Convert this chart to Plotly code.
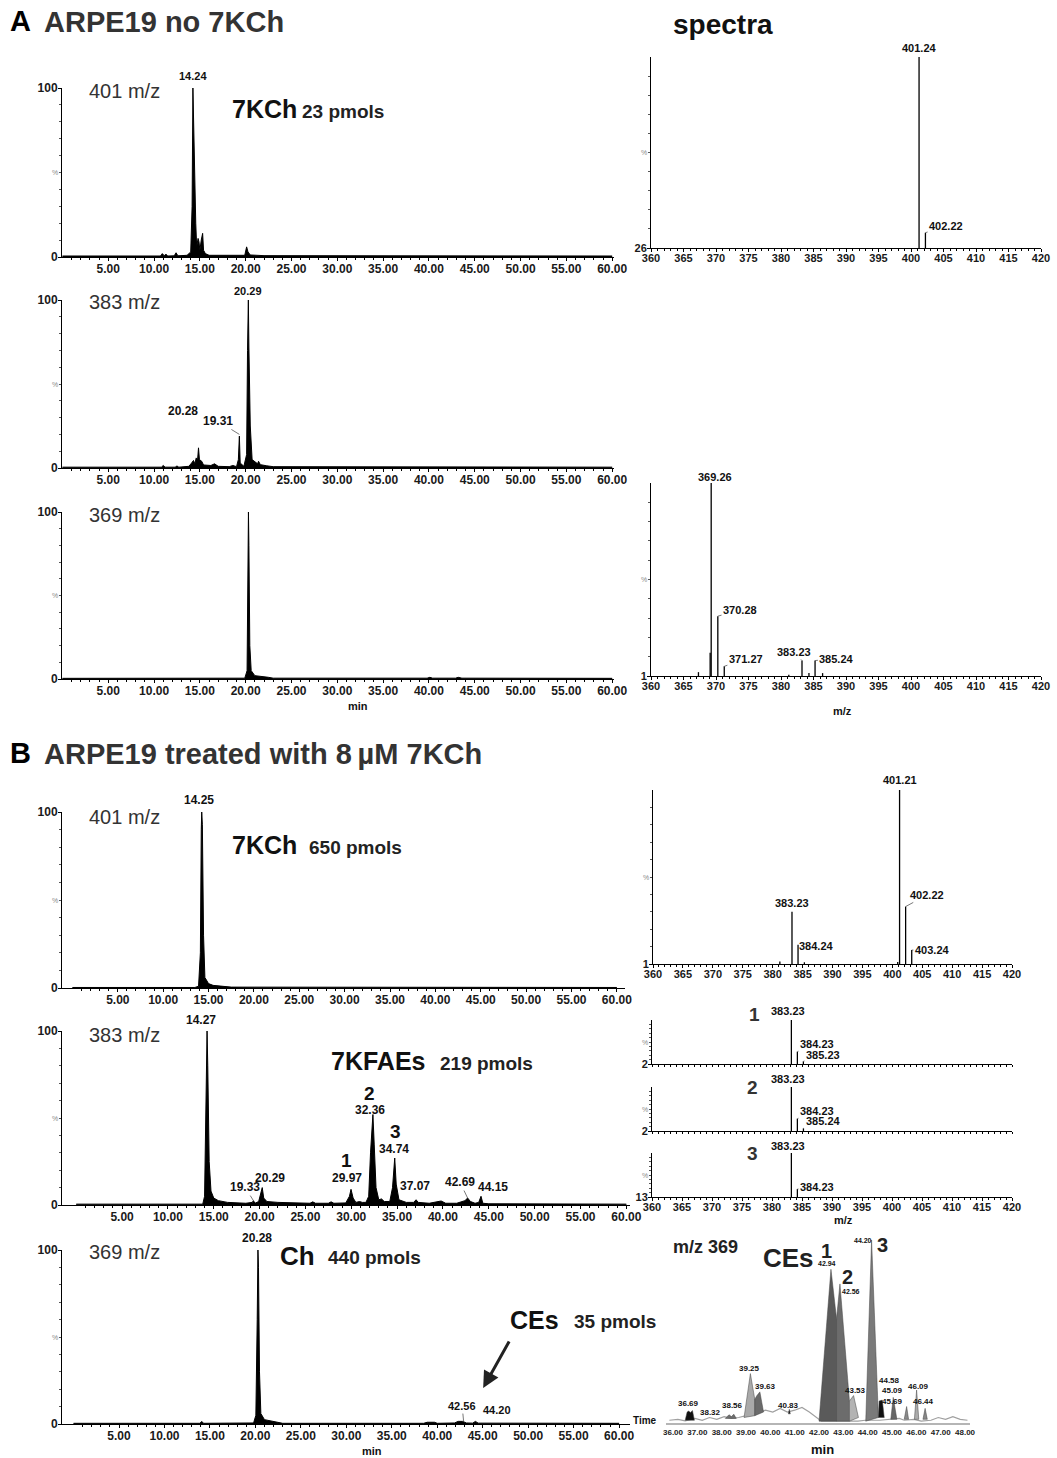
import plotly.graph_objects as go

W, H = 1057, 1458
FONT = "Liberation Sans, Arial, Helvetica, sans-serif"

# ======================= DATA =======================
# Chromatograms: (retention time [min], relative abundance [%])
A401 = [(0, 0.6), (10.7, 0.6), (10.9, 2), (11.1, 0.8), (11.3, 1.6), (11.5, 0.6), (12.2, 0.7), (12.4, 2.5),
        (12.6, 0.7), (13.6, 1), (14.0, 3), (14.15, 30), (14.24, 100), (14.3, 80), (14.4, 60), (14.55, 20),
        (14.65, 6), (14.8, 11), (14.9, 9), (15.0, 4), (15.15, 10), (15.3, 14), (15.4, 4), (15.6, 2), (16.0, 1),
        (19.9, 1), (20.1, 6), (20.25, 3), (20.5, 1.2), (22.0, 0.8), (60, 0.6)]
A383 = [(0, 0.5), (10.8, 0.5), (11.0, 1.5), (11.2, 0.5), (12.3, 0.5), (12.5, 1.2), (12.7, 0.5), (13.8, 1),
        (14.1, 3), (14.3, 4.5), (14.45, 2.5), (14.6, 6), (14.75, 5), (14.85, 12), (14.95, 5), (15.2, 4),
        (15.4, 1.8), (16.2, 1.5), (16.6, 2.5), (17.0, 1), (18.2, 0.8), (18.6, 1.5), (19.0, 0.8), (19.2, 5),
        (19.31, 19), (19.4, 3), (19.8, 1), (20.1, 8), (20.2, 70), (20.29, 100), (20.35, 72), (20.5, 25),
        (20.7, 5), (21.0, 3.5), (21.3, 2.5), (21.4, 4), (21.6, 2), (22.3, 1.3), (23.0, 0.8), (60, 0.5)]
A369 = [(0, 0.4), (19.9, 0.5), (20.15, 5), (20.25, 60), (20.3, 100), (20.35, 80), (20.45, 20), (20.6, 5),
        (21.0, 2), (22.5, 1), (23.0, 0.5), (39.8, 0.5), (40.1, 1), (40.4, 0.5), (42.9, 0.5), (43.2, 1),
        (43.6, 0.5), (60, 0.4)]
B401 = [(0, 0.3), (13.5, 0.3), (13.9, 1), (14.1, 20), (14.2, 90), (14.25, 100), (14.32, 93), (14.45, 30),
        (14.6, 6), (15.0, 2.5), (15.5, 1.5), (16.5, 0.8), (17.5, 0.5), (60, 0.3)]
B383 = [(0, 0.5), (13.8, 0.5), (14.0, 5), (14.15, 60), (14.27, 100), (14.35, 80), (14.5, 25), (14.7, 8),
        (15.0, 4), (15.5, 2.5), (16.5, 1.5), (18.5, 1), (19.2, 1.5), (19.33, 2.5), (19.5, 1), (19.9, 2),
        (20.1, 7), (20.29, 10), (20.45, 4), (20.8, 2), (22.0, 1.5), (24.0, 1), (25.5, 1), (25.8, 1.8),
        (26.1, 1), (27.5, 1), (27.8, 1.8), (28.1, 1), (29.4, 1.2), (29.8, 5), (29.97, 9), (30.2, 4),
        (30.5, 1.5), (30.9, 2), (31.2, 1.5), (31.6, 1.5), (31.9, 5), (32.1, 30), (32.36, 52), (32.5, 35),
        (32.7, 10), (33.0, 3), (33.3, 3.5), (33.6, 2), (34.2, 2), (34.5, 10), (34.74, 27), (34.9, 12),
        (35.2, 3), (36.0, 1.5), (36.8, 1.5), (37.07, 3), (37.3, 1.5), (38.5, 1), (39.4, 2), (39.8, 2.3),
        (40.3, 1), (41.5, 1), (42.4, 2.5), (42.69, 4), (43.0, 2), (43.5, 1), (43.9, 1.5), (44.15, 5),
        (44.35, 1), (45.0, 0.7), (60, 0.5)]
B369 = [(0, 0.4), (13.9, 0.4), (14.1, 1.5), (14.3, 0.4), (19.8, 0.6), (20.05, 5), (20.2, 60), (20.28, 100),
        (20.34, 90), (20.45, 30), (20.6, 6), (21.0, 2.5), (22.0, 1.5), (22.6, 0.8), (23.0, 0.4), (38.5, 0.4),
        (38.9, 1), (39.7, 1), (40.0, 0.4), (41.9, 0.6), (42.3, 1.5), (42.8, 1.5), (43.2, 0.6), (43.9, 0.5),
        (44.2, 1.5), (44.5, 0.5), (60, 0.4)]

CHROM_TICKS = [5, 10, 15, 20, 25, 30, 35, 40, 45, 50, 55, 60]
SPEC_TICKS = [360, 365, 370, 375, 380, 385, 390, 395, 400, 405, 410, 415, 420]
CE_TICKS = [36, 37, 38, 39, 40, 41, 42, 43, 44, 45, 46, 47, 48]

# Mass spectra: m/z and relative intensity [%]
SA401_MZ = [401.24, 402.22]
SA401_I = [100, 8]
SA369_MZ = [367.3, 369.1, 369.26, 370.28, 371.27, 381.2, 383.23, 384.3, 385.24, 386.4]
SA369_I = [2, 12, 100, 31, 5, 0.6, 8, 1.5, 8, 1.5]
SB401_MZ = [381.2, 383.23, 384.24, 385.3, 400.9, 401.21, 402.22, 403.24]
SB401_I = [1.5, 30, 11, 1, 1.2, 100, 33, 8]
SB1_MZ = [383.23, 384.23, 385.23]
SB1_I = [100, 28, 6]
SB2_MZ = [383.23, 384.23, 385.24]
SB2_I = [100, 28, 6]
SB3_MZ = [383.23, 384.23]
SB3_I = [100, 18]

# CE region of the m/z 369 chromatogram (36-48 min)
CE_BASE = [(35.85, 1.5), (36.2, 2), (36.5, 1.2), (36.9, 2.5), (37.2, 1.5), (37.5, 3), (37.8, 2), (38.1, 3.5),
           (38.4, 2.5), (38.7, 3), (39.0, 4), (39.4, 5), (39.8, 7), (40.1, 6), (40.4, 8), (40.7, 6), (41.0, 7),
           (41.3, 8.5), (41.6, 6), (41.9, 3), (42.1, 1), (43.6, 1), (43.9, 1.5), (44.5, 1.5), (44.9, 2),
           (45.3, 2.5), (45.5, 1.5), (45.9, 2), (46.2, 1), (46.6, 1.5), (46.9, 3), (47.2, 2), (47.5, 3.5),
           (47.8, 2), (48.1, 1.5)]
CE_PEAKS = [  # (outline vertices, fill colour)
    ([(36.5, 1.5), (36.58, 6), (36.64, 6.5), (36.72, 5.8), (36.8, 6.8), (36.88, 1.5)], "#111111"),
    ([(38.15, 2.5), (38.3, 4.5), (38.4, 3.5), (38.5, 4.8), (38.6, 2.5)], "#6e6e6e"),
    ([(38.92, 3), (39.18, 27), (39.36, 13), (39.36, 4)], "#a9a9a9"),
    ([(39.36, 4), (39.36, 13), (39.45, 15), (39.57, 17), (39.72, 6)], "#6a6a6a"),
    ([(40.74, 5), (40.78, 7.5), (40.82, 5)], "#111111"),
    ([(42.0, 1), (42.49, 84), (42.72, 57), (42.72, 1)], "#5a5a5a"),
    ([(42.72, 1), (42.72, 57), (42.86, 76), (43.25, 12), (43.25, 1)], "#6c6c6c"),
    ([(43.25, 1), (43.25, 12), (43.42, 15), (43.62, 3)], "#b3b3b3"),
    ([(43.92, 1), (44.16, 100), (44.44, 3)], "#7a7a7a"),
    ([(44.44, 3), (44.47, 12), (44.6, 12.5), (44.68, 3)], "#111111"),
    ([(44.95, 2), (45.05, 14), (45.2, 2)], "#666666"),
    ([(45.5, 2), (45.6, 9), (45.68, 2)], "#8a8a8a"),
    ([(45.92, 2), (46.01, 18), (46.1, 2)], "#ababab"),
    ([(46.27, 2), (46.36, 8), (46.45, 2)], "#888888"),
]

# ======================= HELPERS =======================
def fx(px):
    return px / W


def fy(py):
    return 1 - py / H


fig = go.Figure()
layout = dict(width=W, height=H, margin=dict(l=0, r=0, t=0, b=0, pad=0, autoexpand=False),
              paper_bgcolor="white", plot_bgcolor="rgba(0,0,0,0)", showlegend=False,
              font=dict(family=FONT, color="#111"))
annotations = []
GEOM = {}  # axis id -> (x px domain, y px (top,bottom), x range, y range)


def bold(size, color="#111"):
    return dict(family=FONT, size=size, color=color, weight="bold")


def txt(px, py, text, size, color="#111", weight="bold", xanchor="center"):
    annotations.append(dict(xref="paper", yref="paper", x=fx(px), y=fy(py), text=text, showarrow=False,
                            xanchor=xanchor, yanchor="middle",
                            font=dict(family=FONT, size=size, color=color, weight=weight)))


def d2p(i, x, y):
    (x0, x1), (yt, yb), (r0, r1), (s0, s1) = GEOM[i]
    px = x0 + (x - r0) / (r1 - r0) * (x1 - x0)
    py = yb - (y - s0) / (s1 - s0) * (yb - yt)
    return px, py


def lab(i, x, y, text, size=11, hx=None, hy=None, color="#111"):
    px, py = d2p(i, x, y)
    if hx is None:
        txt(px, py, text, size, color=color)
        return
    hpx, hpy = d2p(i, hx, hy)
    annotations.append(dict(xref="paper", yref="paper", x=fx(hpx), y=fy(hpy), ax=px - hpx, ay=py - hpy,
                            text=text, font=bold(size, color), showarrow=True, arrowhead=0, arrowwidth=0.8,
                            arrowcolor="#555", standoff=0, startstandoff=0))


def set_axes(i, xpx, ypx, xr, xticks, xtext, tick_size, ylabel, minor_x, show_xlabels=True):
    GEOM[i] = (xpx, ypx, xr, (0, 100))
    layout[f"xaxis{i}"] = dict(
        domain=[fx(xpx[0]), fx(xpx[1])], range=xr, anchor=f"y{i}", showline=True, linecolor="black",
        linewidth=1.4, ticks="outside", ticklen=3, tickwidth=1, tickcolor="black", tickmode="array",
        tickvals=xticks, ticktext=xtext if show_xlabels else [""] * len(xticks),
        ticklabelstandoff=-3, automargin=False,
        tickfont=bold(tick_size, "#1a1a1a"), showgrid=False, zeroline=False, fixedrange=True,
        minor=dict(tickmode="array", tickvals=minor_x, ticks="outside", ticklen=2, tickwidth=1,
                   tickcolor="black", showgrid=False))
    layout[f"yaxis{i}"] = dict(
        domain=[fy(ypx[1]), fy(ypx[0])], range=[0, 100], anchor=f"x{i}", showline=True, linecolor="black",
        linewidth=1, ticks="outside", ticklen=3, tickcolor="black", tickmode="array", automargin=False,
        tickvals=[0, 100] if ylabel == "0" else [0], ticktext=["0", "100"] if ylabel == "0" else [ylabel],
        ticklabelstandoff=-2,
        tickfont=bold(12 if ylabel == "0" else 11, "#1a1a1a"), showgrid=False, zeroline=False,
        fixedrange=True,
        minor=dict(tickmode="array", tickvals=[10, 20, 30, 40, 50, 60, 70, 80, 90], ticks="outside",
                   ticklen=2, tickcolor="#555", showgrid=False))
    txt(xpx[0] - 7, (ypx[0] + ypx[1]) / 2, "%", 7, color="#888", weight="normal")


def chrom(i, data):
    t = [p[0] for p in data]
    y = [p[1] for p in data]
    fig.add_trace(go.Scatter(x=t, y=y, mode="lines", fill="tozeroy", fillcolor="black",
                             line=dict(color="black", width=1), xaxis=f"x{i}", yaxis=f"y{i}",
                             cliponaxis=False, hoverinfo="skip"))


def sticks(i, mz, inten):
    xs, ys = [], []
    for m, h in zip(mz, inten):
        xs += [m, m, None]
        ys += [0, h, None]
    fig.add_trace(go.Scatter(x=xs, y=ys, mode="lines", line=dict(color="black", width=1.3),
                             xaxis=f"x{i}", yaxis=f"y{i}", cliponaxis=False, hoverinfo="skip"))


chrom_text = [f"{v:.2f}" for v in CHROM_TICKS]
chrom_minor = list(range(1, 61))
spec_text = [str(v) for v in SPEC_TICKS]
spec_minor = list(range(360, 421))

# ---------------- chromatogram panels ----------------
CHROMS = [  # axis id, data, x-domain px, y (top, bottom) px, x range
    (1, A401, (62, 614), (88, 257), [-0.05, 60.2]),
    (2, A383, (62, 614), (300, 468), [-0.05, 60.2]),
    (3, A369, (62, 614), (512, 679), [-0.05, 60.2]),
    (4, B401, (62, 625), (812, 988), [-1.15, 60.9]),
    (5, B383, (62, 630), (1031, 1205), [-1.55, 60.4]),
    (6, B369, (62, 630), (1250, 1424), [-1.27, 61.2]),
]
for i, data, xpx, ypx, xr in CHROMS:
    set_axes(i, xpx, ypx, xr, CHROM_TICKS, chrom_text, 12, "0", chrom_minor)
    chrom(i, data)

# ---------------- spectra panels ----------------
SPECS = [
    (7, SA401_MZ, SA401_I, (651, 1041), (57, 248), "26", True),
    (8, SA369_MZ, SA369_I, (651, 1041), (483, 676), "1", True),
    (9, SB401_MZ, SB401_I, (653, 1012), (790, 964), "1", True),
    (10, SB1_MZ, SB1_I, (652, 1012), (1020, 1064), "2", False),
    (11, SB2_MZ, SB2_I, (652, 1012), (1087, 1131), "2", False),
    (12, SB3_MZ, SB3_I, (652, 1012), (1153, 1197), "13", True),
]
for i, mz, inten, xpx, ypx, ylab, showx in SPECS:
    set_axes(i, xpx, ypx, [360, 420], SPEC_TICKS, spec_text, 11, ylab, spec_minor, show_xlabels=showx)
    sticks(i, mz, inten)

# ---------------- CE zoom panel ----------------
GEOM[13] = ((665.7, 969.9), (1240, 1423), (35.7, 48.2), (0, 100))
layout["xaxis13"] = dict(domain=[fx(665.7), fx(969.9)], range=[35.7, 48.2], anchor="y13", showline=True,
                         linecolor="#b5b5b5", linewidth=2, ticks="", tickmode="array", tickvals=CE_TICKS,
                         ticktext=[f"{v:.2f}" for v in CE_TICKS], tickfont=bold(8, "#222"), showgrid=False,
                         zeroline=False, fixedrange=True, automargin=False)
layout["yaxis13"] = dict(domain=[fy(1423), fy(1240)], range=[0, 100], anchor="x13", visible=False,
                         fixedrange=True)
fig.add_trace(go.Scatter(x=[p[0] for p in CE_BASE], y=[p[1] for p in CE_BASE], mode="lines",
                         line=dict(color="#a0a0a0", width=1.2), xaxis="x13", yaxis="y13", hoverinfo="skip"))
for verts, col in CE_PEAKS:
    xs = [v[0] for v in verts] + [verts[0][0]]
    ys = [v[1] for v in verts] + [verts[0][1]]
    fig.add_trace(go.Scatter(x=xs, y=ys, mode="lines", fill="toself", fillcolor=col,
                             line=dict(color="#444", width=0.5), xaxis="x13", yaxis="y13",
                             cliponaxis=False, hoverinfo="skip"))

# ======================= TEXT =======================
txt(8, 21, "A", 29, color="#000", xanchor="left")
txt(42, 22, "ARPE19 no 7KCh", 29, color="#333", xanchor="left")
txt(723, 24, "spectra", 28, color="#111")
txt(8, 753, "B", 29, color="#000", xanchor="left")
txt(42, 754, "ARPE19 treated with 8\u2009\u00b5M 7KCh", 29, color="#333", xanchor="left")

txt(124, 91, "401 m/z", 20, color="#333", weight="normal")
txt(124, 302, "383 m/z", 20, color="#333", weight="normal")
txt(124, 515, "369 m/z", 20, color="#333", weight="normal")
txt(124, 817, "401 m/z", 20, color="#333", weight="normal")
txt(124, 1035, "383 m/z", 20, color="#333", weight="normal")
txt(124, 1252, "369 m/z", 20, color="#333", weight="normal")

txt(230, 109, "7KCh", 25, xanchor="left")
txt(300, 111, "23 pmols", 19, color="#222", xanchor="left")
txt(230, 845, "7KCh", 25, xanchor="left")
txt(307, 847, "650 pmols", 19, color="#222", xanchor="left")
txt(329, 1061, "7KFAEs", 25, xanchor="left")
txt(438, 1063, "219 pmols", 19, color="#222", xanchor="left")
txt(278, 1256, "Ch", 26, xanchor="left")
txt(326, 1257, "440 pmols", 19, color="#222", xanchor="left")
txt(508, 1320, "CEs", 25, xanchor="left")
txt(572, 1321, "35 pmols", 19, color="#222", xanchor="left")
txt(358, 706, "min", 11)
txt(372, 1451, "min", 11)
txt(645, 1420, "Time", 10)
txt(842, 711, "m/z", 11)
txt(843, 1220, "m/z", 11)

# big arrow pointing to the CEs
annotations.append(dict(xref="x6", yref="y6", axref="x6", ayref="y6", x=45.05, y=20.7, ax=48.0, ay=48.3,
                        text="", showarrow=True, arrowhead=2, arrowsize=1.1, arrowwidth=3,
                        arrowcolor="#222"))

# peak labels (chromatograms)
lab(1, 14.24, 107, "14.24")
lab(2, 20.29, 105.5, "20.29")
lab(2, 13.2, 34, "20.28", 12)
lab(2, 16.94, 28, "19.31", 12, hx=19.31, hy=20)
lab(4, 14.0, 107, "14.25", 12)
lab(5, 13.6, 106.5, "14.27", 12)
lab(5, 18.4, 10.3, "19.33", 12, hx=19.33, hy=2.5)
lab(5, 21.1, 15.5, "20.29", 12)
lab(5, 29.5, 25.5, "1", 19)
lab(5, 29.5, 15.5, "29.97", 12)
lab(5, 32.0, 64, "2", 19)
lab(5, 32.0, 54.6, "32.36", 12)
lab(5, 34.85, 42.5, "3", 19)
lab(5, 34.65, 32.2, "34.74", 12)
lab(5, 36.9, 10.9, "37.07", 12)
lab(5, 41.85, 13.2, "42.69", 12, hx=42.69, hy=4)
lab(5, 45.45, 10.3, "44.15", 12)
lab(6, 20.19, 107, "20.28", 12)
lab(6, 42.74, 10.3, "42.56", 11, hx=42.9, hy=1.5)
lab(6, 46.6, 8, "44.20", 11)

# spectra labels
lab(7, 401.24, 104.7, "401.24")
lab(7, 405.4, 11.5, "402.22", 11, hx=402.22, hy=8)
lab(8, 369.8, 103, "369.26")
lab(8, 373.7, 34.2, "370.28", 11, hx=370.28, hy=31)
lab(8, 374.6, 9, "371.27", 11, hx=371.27, hy=5)
lab(8, 382.0, 12.5, "383.23", 11, hx=383.23, hy=8)
lab(8, 388.6, 9, "385.24", 11, hx=385.24, hy=8)
lab(9, 401.3, 105.7, "401.21")
lab(9, 383.24, 35, "383.23")
lab(9, 387.4, 10.3, "384.24", 11, hx=384.24, hy=11)
lab(9, 405.8, 39.7, "402.22", 11, hx=402.22, hy=33)
lab(9, 406.7, 8, "403.24", 11, hx=403.24, hy=8)
lab(10, 382.7, 120, "383.23")
lab(10, 377.0, 112, "1", 19, color="#333")
lab(10, 387.5, 46, "384.23", 11, hx=384.23, hy=28)
lab(10, 388.5, 21, "385.23", 11, hx=385.23, hy=6)
lab(11, 382.7, 118, "383.23")
lab(11, 376.8, 100, "2", 19, color="#333")
lab(11, 387.5, 46, "384.23", 11, hx=384.23, hy=28)
lab(11, 388.5, 23, "385.24", 11, hx=385.24, hy=6)
lab(12, 382.7, 116, "383.23")
lab(12, 376.7, 100, "3", 19, color="#333")
lab(12, 387.5, 23, "384.23", 11, hx=384.23, hy=18)

# CE zoom panel labels
lab(13, 37.35, 96, "m/z 369", 18, color="#222")
lab(13, 40.75, 90, "CEs", 26, color="#222")
lab(13, 42.32, 94, "1", 20, color="#222")
lab(13, 42.32, 87, "42.94", 7)
lab(13, 43.19, 80, "2", 20, color="#222")
lab(13, 43.33, 72, "42.56", 7)
lab(13, 43.8, 99.5, "44.20", 7)
lab(13, 44.59, 97, "3", 20, color="#222")
lab(13, 39.16, 30, "39.25", 8)
lab(13, 39.81, 20, "39.63", 8)
lab(13, 36.65, 10.5, "36.69", 8)
lab(13, 37.55, 5.5, "38.32", 8)
lab(13, 38.46, 9.8, "38.56", 8)
lab(13, 40.76, 9.8, "40.83", 8)
lab(13, 43.48, 18, "43.53", 8)
lab(13, 44.88, 23, "44.58", 8)
lab(13, 45.04, 17.5, "45.09", 8)
lab(13, 45.02, 11.5, "45.69", 8)
lab(13, 46.1, 19.7, "46.09", 8)
lab(13, 46.3, 11.5, "46.44", 8)
txt(822, 1449, "min", 13)

layout["annotations"] = annotations
fig.update_layout(**layout)
# remove the browser's default 8px page margin so the figure sits at the window origin
fig.write_html("out.html", config={"displayModeBar": False},
               post_script="document.body.style.margin='0';document.body.style.overflow='hidden';")
